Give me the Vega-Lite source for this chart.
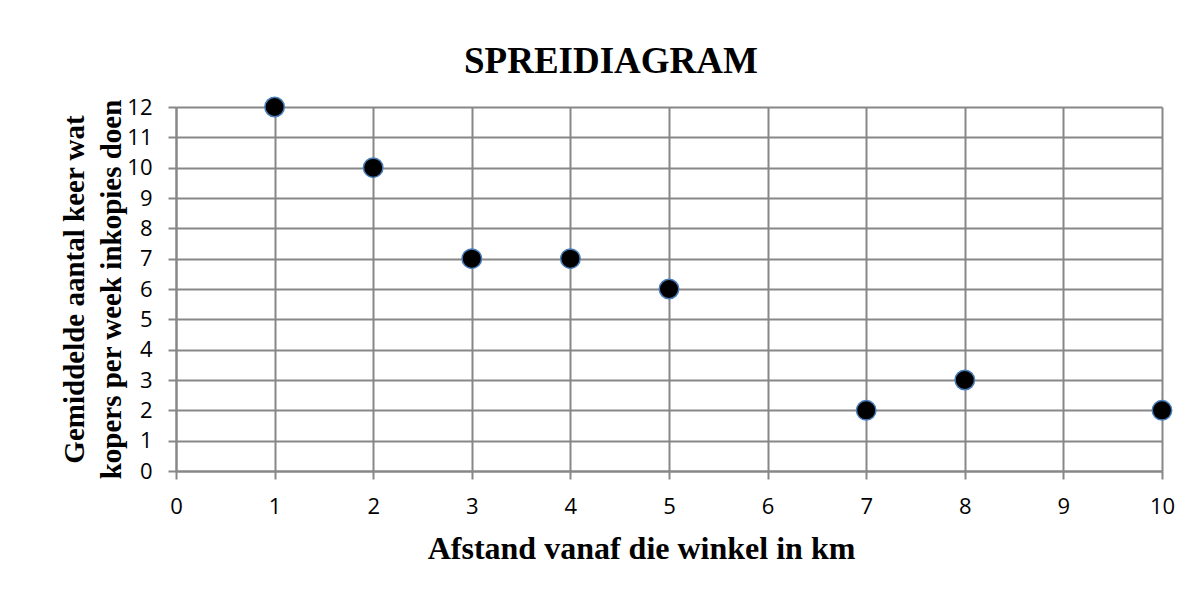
{
  "$schema": "https://vega.github.io/schema/vega-lite/v6.json",
  "autosize": {"type": "none"},
  "width": 986,
  "height": 364,
  "padding": {"left": 176, "top": 107, "right": 37, "bottom": 123},
  "background": "white",
  "title": {
    "text": "SPREIDIAGRAM",
    "font": "Liberation Serif",
    "fontSize": 37,
    "fontWeight": "bold",
    "color": "black",
    "anchor": "middle",
    "baseline": "alphabetic",
    "offset": 34,
    "dx": -58,
    "dy": 50
  },
  "data": {
    "values": [
      {"afstand": 1, "keer": 12},
      {"afstand": 2, "keer": 10},
      {"afstand": 3, "keer": 7},
      {"afstand": 4, "keer": 7},
      {"afstand": 5, "keer": 6},
      {"afstand": 7, "keer": 2},
      {"afstand": 8, "keer": 3},
      {"afstand": 10, "keer": 2}
    ]
  },
  "mark": {"type": "point", "shape": "circle", "filled": true, "fill": "black", "stroke": "#4a7ebb", "strokeWidth": 1.5, "size": 380, "opacity": 1, "fillOpacity": 1},
  "encoding": {
    "x": {
      "field": "afstand",
      "type": "quantitative",
      "scale": {"domain": [0, 10], "nice": false, "zero": true},
      "axis": {
        "values": [0,1,2,3,4,5,6,7,8,9,10],
        "format": "d",
        "title": "Afstand vanaf die winkel in km",
        "titleFont": "Liberation Serif",
        "titleFontSize": 32,
        "titleFontWeight": "bold",
        "titleColor": "black",
        "titleX": 465,
        "titleY": 87,
        "titleAlign": "center",
        "titleBaseline": "alphabetic",
        "labelPadding": 17
      }
    },
    "y": {
      "field": "keer",
      "type": "quantitative",
      "scale": {"domain": [0, 12], "nice": false, "zero": true},
      "axis": {
        "values": [0,1,2,3,4,5,6,7,8,9,10,11,12],
        "format": "d",
        "title": ["Gemiddelde aantal keer wat", "kopers per week inkopies doen"],
        "titleFont": "Liberation Serif",
        "titleFontSize": 29,
        "titleFontWeight": "bold",
        "titleColor": "black",
        "titleAngle": -90,
        "titleX": -93,
        "titleY": 182,
        "titleAlign": "center",
        "titleBaseline": "alphabetic",
        "titleLineHeight": 37,
        "labelPadding": 16
      }
    }
  },
  "config": {
    "view": {"stroke": null},
    "axis": {
      "grid": true,
      "gridColor": "#878787",
      "gridWidth": 2,
      "gridOpacity": 1,
      "domainColor": "#878787",
      "domainWidth": 2,
      "tickColor": "#878787",
      "tickWidth": 2,
      "tickSize": 8,
      "labelFont": "Open Sans",
      "labelFontSize": 22,
      "labelColor": "black",
      "labelFlush": false,
      "labelOverlap": false
    }
  }
}
